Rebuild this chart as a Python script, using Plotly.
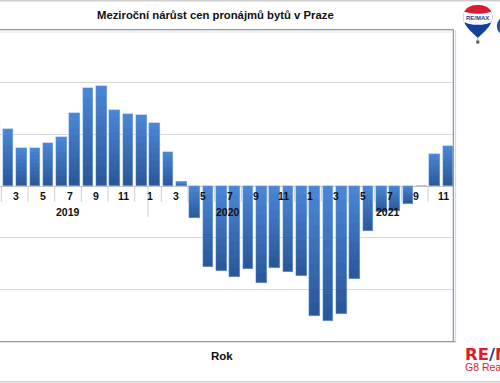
import plotly.graph_objects as go

# ---------------- data ----------------
years = ["2019", "2020", "2021"]
months_2019 = [1, 2, 3, 4, 5, 6, 7, 8, 9, 10, 11, 12]
months_2020 = [1, 2, 3, 4, 5, 6, 7, 8, 9, 10, 11, 12]
months_2021 = [1, 2, 3, 4, 5, 6, 7, 8, 9, 10, 11]
growth_2019 = [6.6, 5.5, 3.7, 3.7, 4.2, 4.7, 7.1, 9.5, 9.7, 7.4, 7.0, 6.9]
growth_2020 = [6.1, 3.3, 0.4, -3.1, -7.8, -8.2, -8.8, -8.0, -9.4, -7.9, -8.3, -8.7]
growth_2021 = [-12.6, -13.1, -12.4, -9.0, -4.4, -2.5, -2.4, -1.7, 0.0, 3.1, 3.9]

title_text = "Meziroční nárůst cen pronájmů bytů v Praze"
x_title = "Rok"

months = months_2019 + months_2020 + months_2021
values = growth_2019 + growth_2020 + growth_2021
idx = list(range(len(values)))

# ---------------- geometry ----------------
W, H = 500, 383
L, R, T, B = 0, 454, 31, 341  # plot area in pixels


def pxx(p):
    return (p - L) / (R - L)


def pxy(p):
    return (B - p) / (B - T)


FONT = "Liberation Sans, Arial, sans-serif"

fig = go.Figure()

# gradient bars built from stacked slices of each bar
N = 10
light = (74, 136, 216)
dark = (42, 86, 152)
for k in range(N):
    f0, f1 = k / N, (k + 1) / N
    bases, heights, cols = [], [], []
    for v in values:
        bases.append(v * f0)
        heights.append(v * (f1 - f0))
        frac = (k + 0.5) / N
        t = frac if v >= 0 else 1 - frac  # t=1 -> light
        c = tuple(int(dark[j] + (light[j] - dark[j]) * t) for j in range(3))
        cols.append("rgb(%d,%d,%d)" % c)
    fig.add_trace(go.Bar(x=idx, y=heights, base=bases, width=0.78,
                         marker=dict(color=cols, line=dict(width=0)),
                         hoverinfo="skip", showlegend=False))
# thin light outline
fig.add_trace(go.Bar(x=idx, y=values, width=0.78,
                     marker=dict(color="rgba(0,0,0,0)",
                                 line=dict(width=0.7, color="rgba(150,185,230,0.9)")),
                     hoverinfo="skip", showlegend=False))

shapes = []
annotations = []

# month labels (odd months), tick marks and year separators
for i, m in zip(idx, months):
    if m % 2 == 1:
        annotations.append(dict(x=i - 0.37, y=-1.0, xref="x", yref="y",
                                xanchor="center", yanchor="middle",
                                text="<b>%d</b>" % m, showarrow=False,
                                font=dict(family=FONT, size=10.5, color="#111111")))
n_total = 12 * len(years)
for b in range(n_total - 1):
    pos = b + 0.5
    if b % 12 == 11:
        shapes.append(dict(type="line", xref="x", yref="y", x0=pos, x1=pos,
                           y0=0, y1=-3.0, line=dict(color="#d0d0d0", width=1), layer="below"))
    elif b % 2 == 0:
        shapes.append(dict(type="line", xref="x", yref="y", x0=pos, x1=pos,
                           y0=0, y1=-1.55, line=dict(color="#d0d0d0", width=1), layer="below"))
for yi, yname in enumerate(years):
    annotations.append(dict(x=yi * 12 + 5.5, y=-2.5, xref="x", yref="y",
                            xanchor="center", yanchor="middle",
                            text="<b>%s</b>" % yname, showarrow=False,
                            font=dict(family=FONT, size=10.5, color="#111111")))

# title and axis title
annotations.append(dict(x=pxx(215), y=pxy(14.5), xref="paper", yref="paper",
                        xanchor="center", yanchor="middle",
                        text="<b>%s</b>" % title_text, showarrow=False,
                        font=dict(family=FONT, size=11.3, color="#111111")))
annotations.append(dict(x=pxx(222), y=pxy(355.5), xref="paper", yref="paper",
                        xanchor="center", yanchor="middle",
                        text="<b>%s</b>" % x_title, showarrow=False,
                        font=dict(family=FONT, size=11.5, color="#111111")))


def hline(y, x0, x1, color, w):
    shapes.append(dict(type="line", xref="paper", yref="paper",
                       x0=pxx(x0), x1=pxx(x1), y0=pxy(y), y1=pxy(y),
                       line=dict(color=color, width=w)))


def vline(x, y0, y1, color, w):
    shapes.append(dict(type="line", xref="paper", yref="paper",
                       x0=pxx(x), x1=pxx(x), y0=pxy(y0), y1=pxy(y1),
                       line=dict(color=color, width=w)))


hline(0.8, 0, 500, "#cfcfcf", 1.5)
hline(381.8, 0, 500, "#cfcfcf", 1.5)
hline(29.6, 0, 453.5, "#8597b3", 1.3)
hline(32.0, 0, 452, "#dde3ea", 1.2)
hline(341.6, 0, 455, "#8597b3", 1.3)
vline(453.4, 29.6, 341.6, "#8597b3", 1.3)
vline(455.6, 30, 343, "#d6dbe2", 1.2)


# ---------------- RE/MAX balloon logo ----------------
def bez(p0, p1, p2, p3, n=24):
    pts = []
    for s in range(n + 1):
        t = s / n
        a = (1 - t) ** 3
        b = 3 * (1 - t) ** 2 * t
        c = 3 * (1 - t) * t ** 2
        d = t ** 3
        pts.append((a * p0[0] + b * p1[0] + c * p2[0] + d * p3[0],
                    a * p0[1] + b * p1[1] + c * p2[1] + d * p3[1]))
    return pts


cx, top, bot, rw, ymid = 477.8, 5.0, 38.0, 14.6, 17.0
right = bez((cx, top), (cx + 8, top), (cx + rw, 9), (cx + rw, ymid)) + \
    bez((cx + rw, ymid), (cx + rw, 26), (cx + 5, 33), (cx, bot))[1:]
left = [(2 * cx - x, y) for (x, y) in right]


def to_path(pts):
    s = "M %.5f,%.5f" % (pxx(pts[0][0]), pxy(pts[0][1]))
    for x, y in pts[1:]:
        s += " L %.5f,%.5f" % (pxx(x), pxy(y))
    return s + " Z"


def region_above(ycut, sag):
    r = [p for p in right if p[1] <= ycut]
    lft = [p for p in left if p[1] <= ycut]
    xr = r[-1][0]
    xl = lft[-1][0]
    curve = []
    for s in range(1, 20):
        t = s / 20
        x = xr + (xl - xr) * t
        y = r[-1][1] + sag * 4 * t * (1 - t)
        curve.append((x, y))
    return r + curve + list(reversed(lft))


whole = right + list(reversed(left))[1:]
shapes.append(dict(type="path", xref="paper", yref="paper", path=to_path(whole),
                   fillcolor="#12409a", line=dict(width=0)))
shapes.append(dict(type="path", xref="paper", yref="paper",
                   path=to_path(region_above(22.5, 2.5)),
                   fillcolor="#ffffff", line=dict(width=0)))
shapes.append(dict(type="path", xref="paper", yref="paper",
                   path=to_path(region_above(12.5, 2.0)),
                   fillcolor="#dc1c2e", line=dict(width=0)))
shapes.append(dict(type="rect", xref="paper", yref="paper",
                   x0=pxx(476.3), x1=pxx(479.3), y0=pxy(43.5), y1=pxy(40.5),
                   fillcolor="#555555", line=dict(width=0)))
shapes.append(dict(type="line", xref="paper", yref="paper",
                   x0=pxx(477.8), x1=pxx(477.8), y0=pxy(38), y1=pxy(40.5),
                   line=dict(color="#777777", width=0.6)))
shapes.append(dict(type="circle", xref="paper", yref="paper",
                   x0=pxx(496.8), x1=pxx(515.8), y0=pxy(35.5), y1=pxy(16.5),
                   fillcolor="#1d4fa3", line=dict(width=0)))
annotations.append(dict(x=pxx(477.8), y=pxy(17.5), xref="paper", yref="paper",
                        xanchor="center", yanchor="middle",
                        text="<b>RE/MAX</b>", showarrow=False,
                        font=dict(family=FONT, size=6, color="#1a3f95")))

# bottom-right text logo
annotations.append(dict(x=pxx(462.5), y=pxy(354.2), xref="paper", yref="paper",
                        xanchor="left", yanchor="middle", showarrow=False,
                        text="<b><span style='color:#dc1c2e'>RE</span>"
                             "<span style='color:#1a3f95'>/</span>"
                             "<span style='color:#dc1c2e'>MAX</span></b>",
                        font=dict(family="DejaVu Sans, sans-serif", size=16.5)))
annotations.append(dict(x=pxx(463), y=pxy(367), xref="paper", yref="paper",
                        xanchor="left", yanchor="middle", showarrow=False,
                        text="G8 Reality", font=dict(family=FONT, size=10.5, color="#dc1c2e")))

fig.update_layout(
    width=W, height=H,
    margin=dict(l=L, r=W - R, t=T, b=H - B, pad=0),
    paper_bgcolor="white", plot_bgcolor="white",
    barmode="overlay", bargap=0,
    showlegend=False,
    xaxis=dict(range=[0.3975, 34.45], showticklabels=False, showgrid=False,
               zeroline=False, ticks="", fixedrange=True),
    yaxis=dict(range=[-15, 15], dtick=5, showticklabels=False, showgrid=True,
               gridcolor="#d9d9d9", gridwidth=1, zeroline=True,
               zerolinecolor="#c4c4c4", zerolinewidth=1, ticks="", fixedrange=True),
    shapes=shapes, annotations=annotations,
)

fig.write_html("out.html", config={"displayModeBar": False},
               post_script="document.body.style.margin='0';document.body.style.overflow='hidden';")
